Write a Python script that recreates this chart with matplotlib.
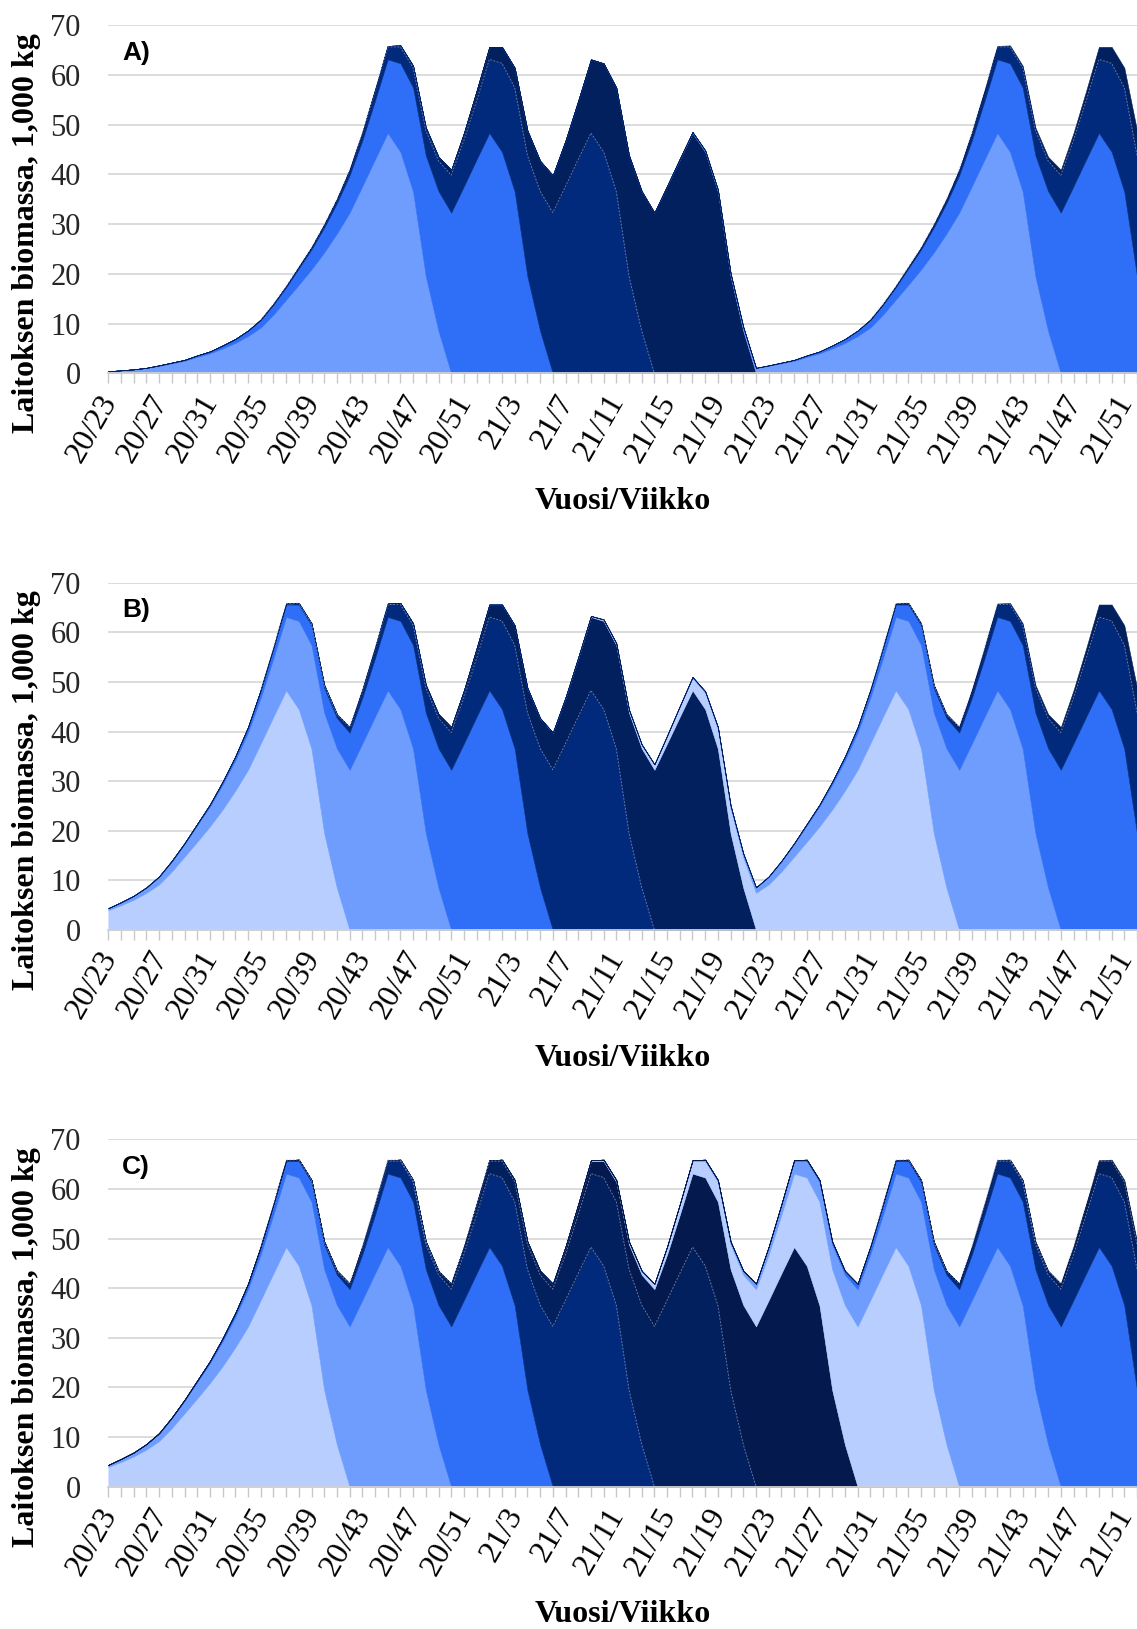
import numpy as np
import matplotlib
matplotlib.use("Agg")
import matplotlib.pyplot as plt
from matplotlib.transforms import ScaledTranslation

# ---------------- data ----------------
CATEGORIES = [f"20/{w}" for w in range(23, 53)] + [f"21/{w}" for w in range(1, 53)]
TICK_LABEL_STEP = 4

# biomass of one production batch (1,000 kg) relative to its peak week
PROFILE_OFFSETS = list(range(-26, 6))
PROFILE_VALUES = [0.1, 0.15, 0.2, 0.3, 0.4, 0.6, 0.8, 1.1, 1.5, 2.0,
                  2.5, 3.3, 4.0, 5.0, 6.1, 7.5, 9.2, 11.8, 14.8, 17.8,
                  20.9, 24.3, 28.1, 32.3, 37.6, 43.0, 48.3, 44.5, 36.5, 19.5,
                  8.5, 0.0]

# peak week of every batch, counted in weeks from 20/23
PEAKS_A = [22, 30, 38, 46, 70, 78, 86, 94]
PEAKS_B = [14, 22, 30, 38, 46, 62, 70, 78, 86, 94]
PEAKS_C = [14, 22, 30, 38, 46, 54, 62, 70, 78, 86, 94, 102]

PANEL_LABELS = ["A)", "B)", "C)"]
Y_TICKS = [0, 10, 20, 30, 40, 50, 60, 70]
Y_LABEL = "Laitoksen biomassa, 1,000 kg"
X_LABEL = "Vuosi/Viikko"

SLOT_COLORS = ["#b7ceff", "#6e9dfd", "#2f6ef6", "#012a7d", "#021f5e", "#041a4e"]

# ---------------- figure ----------------
W, H = 1137, 1629
fig = plt.figure(figsize=(W / 100, H / 100), dpi=100)

x = np.arange(len(CATEGORIES))
prof = dict(zip(PROFILE_OFFSETS, PROFILE_VALUES))

left_px = 108.3
panels = [(25.0, 373.3), (582.7, 930.0), (1139.3, 1486.7)]
x_right = 80.8

SERIF = ["Liberation Serif", "DejaVu Serif"]

for pi, (peaks, (ytop, ybot)) in enumerate(zip([PEAKS_A, PEAKS_B, PEAKS_C], panels)):
    ax = fig.add_axes([left_px / W, 1 - ybot / H, 1 - left_px / W, (ybot - ytop) / H])
    series = []
    slots = []
    for p in peaks:
        series.append(np.array([prof.get(i - p, 0.0) for i in x]))
        slots.append(((p - 14) // 8) % 6)
    colors = [SLOT_COLORS[s] for s in slots]
    polys = ax.stackplot(x, *series, colors=colors, linewidth=0.4, zorder=2)
    for poly, c in zip(polys, colors):
        poly.set_edgecolor(c)
    cum = np.cumsum(np.vstack(series), axis=0)
    # faint seam lines between the dark batches
    for k in range(len(series) - 1):
        if slots[k] in (3, 4) and slots[k + 1] in (4, 5):
            top = np.ma.masked_where((series[k] <= 0.01) & (series[k + 1] <= 0.01), cum[k])
            ax.plot(x, top, color="#8fa2cc", lw=0.6, ls=(0, (2, 2)), alpha=0.8, zorder=3)

    ax.set_xlim(0, x_right)
    ax.set_ylim(0, 70)
    ax.set_yticks(Y_TICKS)
    ax.set_yticklabels([str(v) for v in Y_TICKS], fontsize=22, family=SERIF, color="#262626")
    ax.tick_params(axis="y", length=0, pad=20)
    ax.grid(axis="y", color="#d9d9d9", lw=1.3, zorder=0)
    ax.set_axisbelow(True)
    for s in ["top", "right", "left"]:
        ax.spines[s].set_visible(False)
    ax.spines["bottom"].set_color("#d0d0d0")
    ax.spines["bottom"].set_linewidth(1.3)
    ax.spines["bottom"].set_zorder(4)

    ax.set_xticks(x)
    labels = [c if i % TICK_LABEL_STEP == 0 else "" for i, c in enumerate(CATEGORIES)]
    ax.set_xticklabels(labels, rotation=60, ha="right", va="center",
                       rotation_mode="anchor", fontsize=23, family=SERIF)
    ax.tick_params(axis="x", direction="out", length=7, width=1.0, color="#c8c8c8", pad=10)
    shift = ScaledTranslation(2 / 100, 0, fig.dpi_scale_trans)
    for lab in ax.get_xticklabels():
        lab.set_transform(lab.get_transform() + shift)

    ax.text(1.1, 64.4, PANEL_LABELS[pi], fontsize=19, fontweight="bold",
            family=["Liberation Sans", "DejaVu Sans"], ha="left", va="center", zorder=5)

    # axis titles
    fig.text(27 / W, 1 - ((ytop + ybot) / 2 + 34) / H, Y_LABEL, rotation=90,
             ha="center", va="center", fontsize=23, fontweight="bold", family=SERIF)
    fig.text(623 / W, 1 - (ybot + 128) / H, X_LABEL, ha="center", va="center",
             fontsize=23, fontweight="bold", family=SERIF)

fig.savefig("out.png", dpi=100)
